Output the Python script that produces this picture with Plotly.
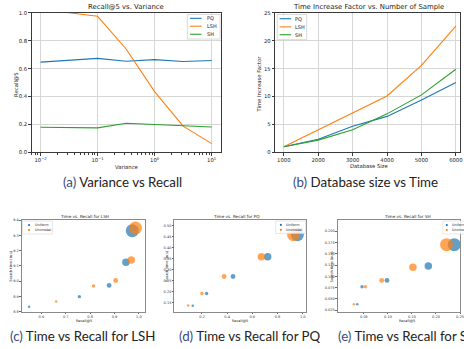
import plotly.graph_objects as go

W, H = 464, 349
def px(x): return x / W
def py(y): return 1 - y / H

# ---------------- data ----------------
# (a) Recall@5 vs Variance
variance = [0.01, 0.1, 0.316, 1.0, 3.16, 10.0]
recall_pq = [0.647, 0.674, 0.653, 0.665, 0.651, 0.658]
recall_lsh = [1.026, 0.975, 0.741, 0.435, 0.188, 0.063]
recall_sh = [0.180, 0.176, 0.209, 0.201, 0.194, 0.182]

# (b) Time increase factor vs database size
db_size = [1000, 2000, 3000, 4000, 5000, 6000]
tif_pq = [1.0, 2.35, 4.7, 6.45, 9.4, 12.5]
tif_lsh = [1.0, 4.05, 7.1, 10.1, 15.6, 22.6]
tif_sh = [1.0, 2.2, 4.05, 6.9, 10.3, 14.9]

method_names = ["PQ", "LSH", "SH"]
dist_names = ["Uniform", "Unimodal"]

# (c) LSH
lsh_uniform_recall = [0.550, 0.756, 0.878, 0.947, 0.973]
lsh_uniform_time = [8.832, 8.898, 8.972, 9.124, 9.331]
lsh_unimodal_recall = [0.661, 0.814, 0.905, 0.969, 0.986]
lsh_unimodal_time = [8.866, 8.968, 9.004, 9.138, 9.348]

# (d) PQ
pq_uniform_recall = [0.127, 0.237, 0.447, 0.722, 0.958]
pq_uniform_time = [0.137, 0.193, 0.270, 0.359, 0.459]
pq_unimodal_recall = [0.090, 0.200, 0.376, 0.672, 0.927]
pq_unimodal_time = [0.139, 0.193, 0.270, 0.359, 0.459]

# (e) SH
sh_uniform_recall = [0.036, 0.046, 0.098, 0.184, 0.238]
sh_uniform_time = [0.038, 0.077, 0.091, 0.123, 0.170]
sh_unimodal_recall = [0.029, 0.053, 0.087, 0.152, 0.222]
sh_unimodal_time = [0.038, 0.077, 0.091, 0.120, 0.170]

point_sizes = [2.5, 3.4, 4.8, 7.5, 13]

captions = ["Variance vs Recall", "Database size vs Time",
            "Time vs Recall for LSH", "Time vs Recall for PQ", "Time vs Recall for SH"]

# ---------------- style ----------------
BLUE, ORANGE, GREEN = "#1f77b4", "#ff7f0e", "#2ca02c"
FONT = "DejaVu Sans"
SPINE = "#3a3a3a"
GRID = "#d6d6d6"

fig = go.Figure()

# (a)
for name, ys, c in zip(method_names, [recall_pq, recall_lsh, recall_sh], [BLUE, ORANGE, GREEN]):
    fig.add_trace(go.Scatter(x=variance, y=ys, mode="lines", name=name,
                             line=dict(color=c, width=1.1), xaxis="x", yaxis="y",
                             showlegend=False))
# (b)
for name, ys, c in zip(method_names, [tif_pq, tif_lsh, tif_sh], [BLUE, ORANGE, GREEN]):
    fig.add_trace(go.Scatter(x=db_size, y=ys, mode="lines", name=name,
                             line=dict(color=c, width=1.1), xaxis="x2", yaxis="y2",
                             showlegend=False))
# (c)-(e)
scatter_sets = [
    ("x3", "y3", lsh_uniform_recall, lsh_uniform_time, lsh_unimodal_recall, lsh_unimodal_time),
    ("x4", "y4", pq_uniform_recall, pq_uniform_time, pq_unimodal_recall, pq_unimodal_time),
    ("x5", "y5", sh_uniform_recall, sh_uniform_time, sh_unimodal_recall, sh_unimodal_time),
]
for xa, ya, ur, ut, mr, mt in scatter_sets:
    fig.add_trace(go.Scatter(x=ur, y=ut, mode="markers", name=dist_names[0],
                             marker=dict(color=BLUE, size=point_sizes, line=dict(width=0)),
                             xaxis=xa, yaxis=ya, showlegend=False, cliponaxis=True))
    fig.add_trace(go.Scatter(x=mr, y=mt, mode="markers", name=dist_names[1],
                             marker=dict(color=ORANGE, size=point_sizes, line=dict(width=0)),
                             xaxis=xa, yaxis=ya, showlegend=False, cliponaxis=True))

def top_axis(domain, **kw):
    d = dict(domain=domain, showline=True, linecolor=SPINE, linewidth=1, mirror=True,
             showgrid=True, gridcolor=GRID, gridwidth=1, zeroline=False,
             ticks="outside", ticklen=2.5, tickwidth=0.8, tickcolor=SPINE,
             tickfont=dict(family=FONT, size=5.3, color="#222"))
    d.update(kw)
    return d

def bot_axis(domain, **kw):
    d = dict(domain=domain, showline=True, linecolor="#8a8a8a", linewidth=0.8, mirror=True,
             showgrid=False, zeroline=False,
             ticks="outside", ticklen=1.5, tickwidth=0.5, tickcolor="#666",
             tickfont=dict(family=FONT, size=3.5, color="#333"))
    d.update(kw)
    return d

ya_dom = [py(152), py(10)]
yb_dom = [py(314), py(221)]

fig.update_layout(
    width=W, height=H, margin=dict(l=0, r=0, t=0, b=0),
    paper_bgcolor="white", plot_bgcolor="white", showlegend=False,
    font=dict(family=FONT, color="#222"),
    xaxis=top_axis([px(32), px(223)], type="log", range=[-2.155, 1.165],
                   tickvals=[0.01, 0.1, 1, 10],
                   ticktext=["10<sup>−2</sup>", "10<sup>−1</sup>", "10<sup>0</sup>", "10<sup>1</sup>"],
                   minor=dict(ticks="outside", ticklen=1.6, tickwidth=0.5, tickcolor=SPINE,
                              dtick="D1", showgrid=False),
                   anchor="y"),
    yaxis=top_axis(ya_dom, range=[0, 1], tickvals=[0, 0.2, 0.4, 0.6, 0.8, 1.0],
                   tickformat=".1f", anchor="x"),
    xaxis2=top_axis([px(277.6), 1.0], range=[750, 6120], tickvals=db_size,
                    tickformat="d", anchor="y2", ticklabeloverflow="allow"),
    yaxis2=top_axis(ya_dom, range=[0, 25], tickvals=[0, 5, 10, 15, 20, 25], anchor="x2"),
    xaxis3=bot_axis([px(22), px(146.7)], range=[0.52, 1.027],
                    tickvals=[0.6, 0.7, 0.8, 0.9, 1.0], tickformat=".1f", anchor="y3"),
    yaxis3=bot_axis(yb_dom, range=[8.8, 9.4], tickvals=[8.8, 8.9, 9.0, 9.1, 9.2, 9.3, 9.4],
                    tickformat=".1f", anchor="x3"),
    xaxis4=bot_axis([px(176), px(309)], range=[-0.018, 1.029],
                    tickvals=[0.2, 0.4, 0.6, 0.8, 1.0], tickformat=".1f", anchor="y4"),
    yaxis4=bot_axis(yb_dom, range=[0.111, 0.525],
                    tickvals=[0.15, 0.20, 0.25, 0.30, 0.35, 0.40, 0.45, 0.50],
                    tickformat=".2f", anchor="x4"),
    xaxis5=bot_axis([px(340.7), 1.0], range=[-0.0045, 0.25],
                    tickvals=[0.05, 0.10, 0.15, 0.20, 0.25], tickformat=".2f", anchor="y5",
                    ticklabeloverflow="allow"),
    yaxis5=bot_axis(yb_dom, range=[0.022, 0.224],
                    tickvals=[0.025, 0.05, 0.075, 0.10, 0.125, 0.15, 0.175, 0.20],
                    tickformat=".3f", anchor="x5"),
)

ann = []
shapes = []

def text(x, y, s, size, angle=0, xanchor="center", color="#222", family=FONT):
    ann.append(dict(x=px(x), y=py(y), xref="paper", yref="paper", text=s, showarrow=False,
                    font=dict(family=family, size=size, color=color), textangle=angle,
                    xanchor=xanchor, yanchor="middle", borderpad=0))

# titles and axis labels, top row
text(127, 4.3, "Recall@5 vs. Variance", 6.9)
text(15.5, 83, "Recall@5", 5.3, angle=-90)
text(127.5, 167.2, "Variance", 5.3)
text(372, 4.3, "Time Increase Factor vs. Number of Sample", 6.9)
text(261.3, 83, "Time Increase Factor", 5.3, angle=-90)
text(372, 166.0, "Database Size", 5.3)

# bottom row titles / labels
bt = ["Time vs. Recall for LSH", "Time vs. Recall for PQ", "Time vs. Recall for SH"]
text(85, 216.8, bt[0], 4.2)
text(238.5, 216.8, bt[1], 4.2)
text(411.5, 216.8, bt[2], 4.2)
for xl, xc in [(11, 84.5), (168.3, 242.5), (334.3, 411)]:
    text(xl, 267.5, "Search time (in s)", 3.5, angle=-90)
    text(xc, 323.3, "Recall@5", 3.5)

# legends (line) for (a) and (b)
def line_legend(x0, y0, x1, y1, lx0, lx1, tx, ys):
    shapes.append(dict(type="rect", xref="paper", yref="paper", x0=px(x0), x1=px(x1),
                       y0=py(y1), y1=py(y0), line=dict(color="#d0d0d0", width=0.8),
                       fillcolor="rgba(255,255,255,0.85)", layer="above"))
    for name, c, yy in zip(method_names, [BLUE, ORANGE, GREEN], ys):
        shapes.append(dict(type="line", xref="paper", yref="paper", x0=px(lx0), x1=px(lx1),
                           y0=py(yy), y1=py(yy), line=dict(color=c, width=1.1), layer="above"))
        text(tx, yy, name, 5.0, xanchor="left")

line_legend(189, 11.7, 222, 36.7, 191.7, 203.3, 207.5, [15.6, 23.6, 31.8])
line_legend(279.7, 11.7, 309.3, 37.3, 282, 293.7, 297, [16, 24.3, 32.3])

def dot_legend(x0, y0, x1, y1, dx, tx, ys):
    shapes.append(dict(type="rect", xref="paper", yref="paper", x0=px(x0), x1=px(x1),
                       y0=py(y1), y1=py(y0), line=dict(color="#d8d8d8", width=0.6),
                       fillcolor="rgba(255,255,255,0.85)", layer="above"))
    for name, c, yy in zip(dist_names, [BLUE, ORANGE], ys):
        shapes.append(dict(type="circle", xref="paper", yref="paper",
                           x0=px(dx - 1.1), x1=px(dx + 1.1), y0=py(yy + 1.1), y1=py(yy - 1.1),
                           fillcolor=c, line=dict(width=0), layer="above"))
        text(tx, yy, name, 3.4, xanchor="left")

dot_legend(22.7, 221.8, 53, 235, 29.3, 34, [226, 231])
dot_legend(278, 221.8, 308.3, 234.5, 283.3, 287.5, [225.8, 230.8])
dot_legend(446.7, 221.8, 477, 235, 450.7, 455, [226, 231])

# captions
LINK = "#3b4a82"
cap_pos = [(124, 182.5), (369, 182.5), (83.5, 338.5), (252, 338.5), (411, 338.5)]
for i, ((cx, cy), cap) in enumerate(zip(cap_pos, captions)):
    lab = "abcde"[i]
    text(cx, cy, f"<span style='color:{LINK}'>({lab})</span> {cap}", 13.3, color="#222", family="Lato")

fig.update_layout(annotations=ann, shapes=shapes)
fig.write_html("out.html", config={"displayModeBar": False},
               post_script="document.body.style.margin='0';document.body.style.overflow='hidden';")
